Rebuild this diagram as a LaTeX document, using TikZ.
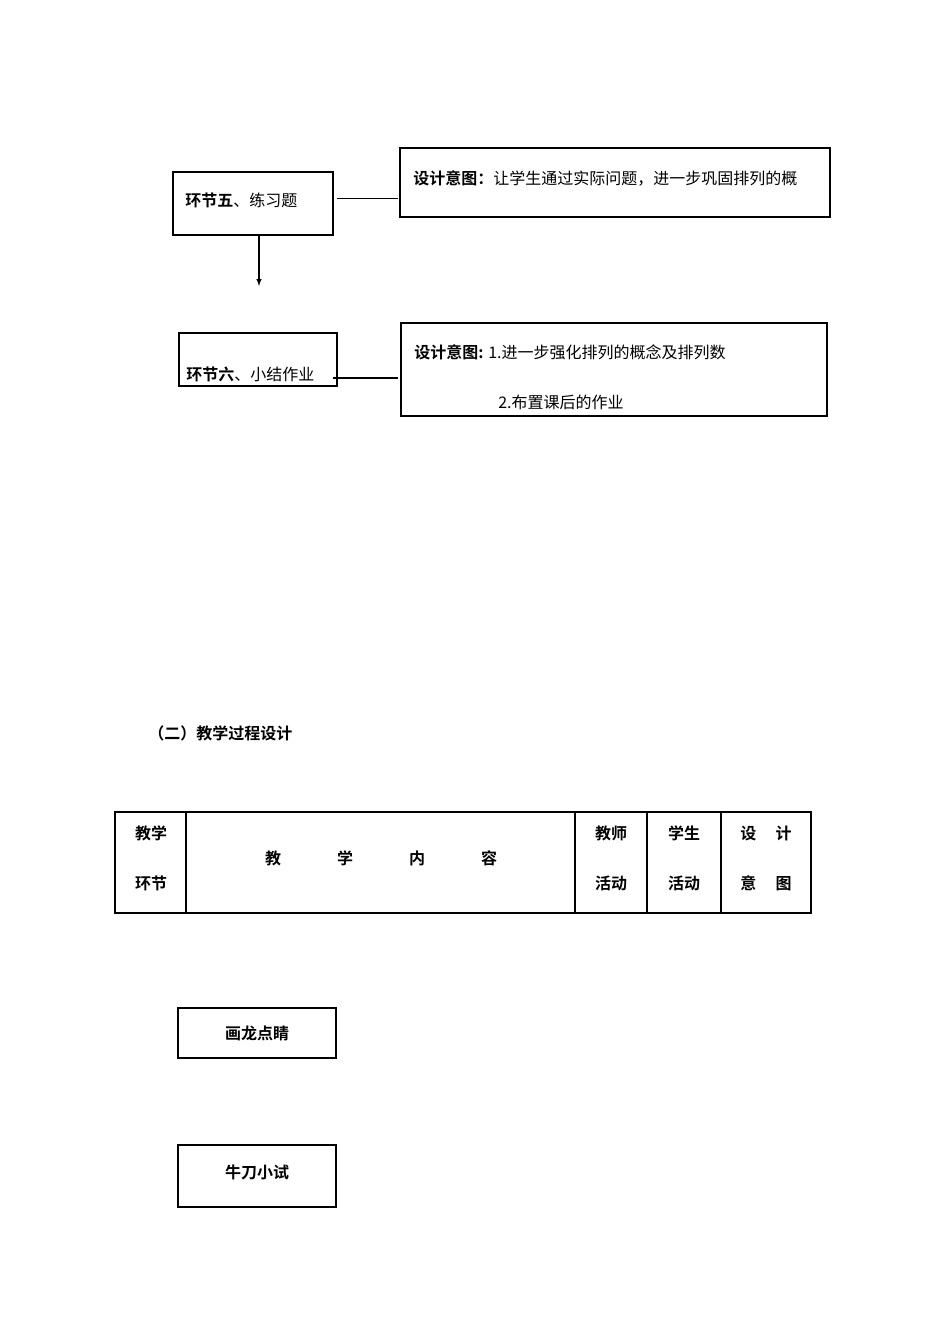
\documentclass[tikz,border=0pt]{standalone}
\usepackage{fontspec}
\newfontfamily\cjk{Noto Sans CJK SC}
\newfontfamily\cjkb{Noto Sans CJK SC Bold}
\begin{document}
\begin{tikzpicture}[x=0.75pt,y=-0.75pt,
  box/.style={draw,line width=0.8pt},
  txt/.style={anchor=west,inner sep=0pt,font=\cjk\fontsize{12}{14}\selectfont},
  bt/.style={inner sep=0pt,font=\cjkb\fontsize{12}{14}\selectfont}]
\useasboundingbox (0,0) rectangle (950,1344);
\draw[box] (173,172) rectangle (333,235);
\node[txt] (t5) at (185,200) {{\cjkb 环节五}、练习题};
\draw[box] (400,148) rectangle (830,217);
\node[txt] (d1) at (413,178) {{\cjkb 设计意图：}让学生通过实际问题，进一步巩固排列的概};
\coordinate (l1a) at (337,198); \coordinate (l1b) at (398,198);
\draw[line width=0.6pt] (l1a) -- (l1b);
\coordinate (a1) at (259,235); \coordinate (a2) at (259,286);
\draw[-latex,line width=0.8pt] (a1) -- (a2);
\draw[box] (179,333) rectangle (337,386);
\draw[line width=1.5pt] (337,333) -- (337,386);
\node[txt] (t6) at (186,374) {{\cjkb 环节六}、小结作业};
\coordinate (l2a) at (333,378); \coordinate (l2b) at (398,378);
\draw[line width=1.5pt] (l2a) -- (l2b);
\draw[box] (401,323) rectangle (827,416);
\node[txt] (d2) at (414,352) {{\cjkb 设计意图:} 1.进一步强化排列的概念及排列数};
\node[txt] (d3) at (498,402) {2.布置课后的作业};
\node[bt,anchor=west] (h) at (148,733) {（二）教学过程设计};
\draw[box] (115,812) rectangle (811,913);
\foreach \x in {186,575,647,721} \draw[line width=0.8pt] (\x,812) -- (\x,913);
\node[bt] (c1) at (151,833) {教学};
\node[bt] (c2) at (151,883) {环节};
\node[bt] (c3) at (381,858) {教\hspace{3.5em}学\hspace{3.5em}内\hspace{3.5em}容};
\node[bt] (c4) at (611,833) {教师};
\node[bt] (c5) at (611,883) {活动};
\node[bt] (c6) at (684,833) {学生};
\node[bt] (c7) at (684,883) {活动};
\node[bt] (c8) at (766,833) {设\hspace{1.2em}计};
\node[bt] (c9) at (766,883) {意\hspace{1.2em}图};
\node[box,bt,minimum width=158*0.75pt,minimum height=50*0.75pt,inner sep=0pt] (b1) at (257,1033) {画龙点睛};
\node[box,bt,minimum width=158*0.75pt,minimum height=62*0.75pt,inner sep=0pt] (b2) at (257,1176) {};
\node[bt] (b2t) at (257,1172) {牛刀小试};
\end{tikzpicture}
\end{document}
